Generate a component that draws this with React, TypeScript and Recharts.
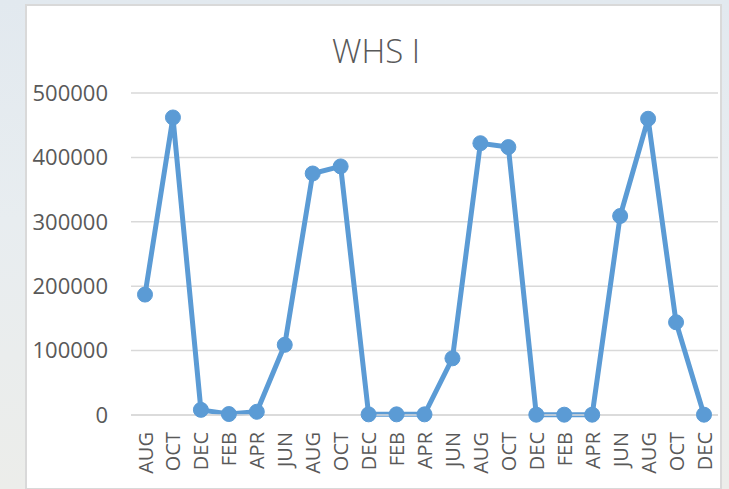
import { LineChart, Line, XAxis, YAxis, CartesianGrid } from "recharts";

const months = [
  "AUG", "OCT", "DEC", "FEB", "APR", "JUN", "AUG",
  "OCT", "DEC", "FEB", "APR", "JUN", "AUG", "OCT",
  "DEC", "FEB", "APR", "JUN", "AUG", "OCT", "DEC",
];

const whsValues = [
  187000, 462000, 8000, 1500, 5000, 109000, 375000,
  386000, 1000, 1000, 1000, 88000, 422000, 416000,
  500, 500, 500, 309000, 460000, 144000, 500,
];

const yTicks = [0, 100000, 200000, 300000, 400000, 500000];

const data = months.map((m, i) => ({ month: m, value: whsValues[i] }));

const textColor = "#595959";
const font = "'Open Sans', sans-serif";

const MonthTick = (props: any) => {
  const { x, y, payload } = props;
  return (
    <text
      x={x}
      y={y}
      transform={`rotate(-90, ${x}, ${y})`}
      textAnchor="end"
      dominantBaseline="central"
      fill={textColor}
      fontSize={20}
      fontFamily={font}
    >
      {payload.value}
    </text>
  );
};

export default function App() {
  return (
    <div
      style={{
        position: "absolute",
        left: 0,
        top: 0,
        width: 729,
        height: 489,
        overflow: "hidden",
        background: "linear-gradient(to bottom, #e2e9ef 0%, #e8edf0 45%, #ecedea 100%)",
      }}
    >
      <div
        style={{
          position: "absolute",
          left: 25,
          top: 4,
          width: 693,
          height: 482,
          background: "#ffffff",
          border: "2px solid #d9d9d9",
        }}
      />
      <svg
        width={729}
        height={489}
        style={{ position: "absolute", left: 0, top: 0 }}
      >
        <text
          x={376}
          y={63}
          textAnchor="middle"
          fill={textColor}
          fontSize={33}
          fontWeight={300}
          fontFamily={font}
        >
          WHS I
        </text>
      </svg>
      <div style={{ position: "absolute", left: 0, top: 0 }}>
        <LineChart
          width={729}
          height={489}
          data={data}
          margin={{ top: 93, right: 11, bottom: 0, left: 0 }}
        >
          <CartesianGrid vertical={false} stroke="#d9d9d9" strokeWidth={1.5} />
          <XAxis
            dataKey="month"
            interval={0}
            height={74}
            padding={{ left: 14, right: 14 }}
            axisLine={{ stroke: "#d9d9d9", strokeWidth: 1.5 }}
            tickLine={false}
            tickSize={0}
            tickMargin={17}
            tick={<MonthTick />}
          />
          <YAxis
            width={131}
            domain={[0, 500000]}
            ticks={yTicks}
            interval={0}
            axisLine={false}
            tickLine={false}
            tickMargin={17}
            tick={{ fill: textColor, fontSize: 22, fontFamily: font }}
          />
          <Line
            type="linear"
            dataKey="value"
            stroke="#5b9bd5"
            strokeWidth={5}
            dot={{ r: 7.5, fill: "#5b9bd5", stroke: "#5b9bd5", strokeWidth: 1 }}
            isAnimationActive={false}
          />
        </LineChart>
      </div>
    </div>
  );
}
